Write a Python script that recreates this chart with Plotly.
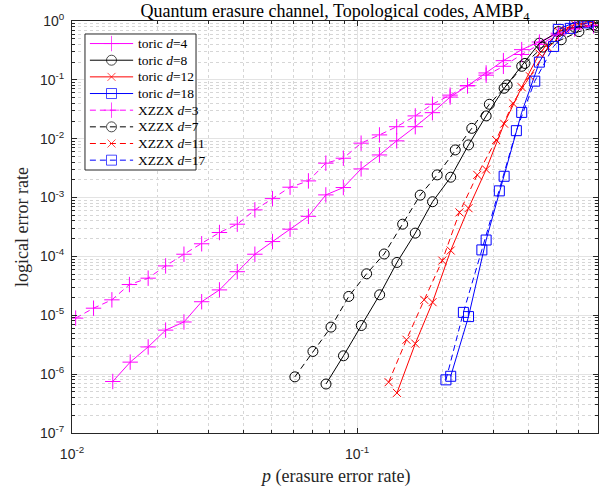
import plotly.graph_objects as go

# ---------------- data ----------------
p_toric4 = [0.0139, 0.016, 0.0185, 0.0213, 0.0247, 0.0285, 0.0329, 0.038, 0.0438, 0.0505,
            0.0582, 0.0675, 0.0777, 0.0895, 0.1033, 0.1198, 0.1377, 0.16, 0.1838, 0.212,
            0.244, 0.2836, 0.326, 0.378, 0.436, 0.508, 0.58, 0.675]
y_toric4 = [7.5e-7, 1.6e-6, 2.9e-6, 5.6e-6, 7.7e-6, 1.7e-5, 2.7e-5, 5.5e-5, 1.09e-4, 1.79e-4,
            2.9e-4, 4.8e-4, 1.11e-3, 1.48e-3, 3.07e-3, 5.3e-3, 9.2e-3, 1.6e-2, 2.77e-2, 5.1e-2,
            7.9e-2, 0.131, 0.212, 0.326, 0.44, 0.62, 0.76, 0.85]

p_xzzx3 = [0.0103, 0.0119, 0.0138, 0.0159, 0.0185, 0.0213, 0.0247, 0.0285, 0.0329, 0.038,
           0.0438, 0.0505, 0.0582, 0.0675, 0.0777, 0.0895, 0.1033, 0.1198, 0.1377, 0.16,
           0.1838, 0.212, 0.244, 0.2836, 0.326, 0.378, 0.436, 0.508, 0.58, 0.675]
y_xzzx3 = [8.95e-6, 1.32e-5, 1.83e-5, 3.33e-5, 4.27e-5, 6.9e-5, 1.09e-4, 1.64e-4, 2.55e-4, 3.53e-4,
           6.18e-4, 9.6e-4, 1.5e-3, 1.92e-3, 3.84e-3, 4.66e-3, 8.4e-3, 1.16e-2, 1.6e-2, 2.44e-2,
           3.85e-2, 5.5e-2, 8.0e-2, 0.12, 0.17, 0.27, 0.40, 0.58, 0.73, 0.83]

p_toric8 = [0.0778, 0.0896, 0.1035, 0.12, 0.138, 0.16, 0.184, 0.213, 0.246, 0.2836,
            0.328, 0.378, 0.436, 0.508, 0.58, 0.675]
y_toric8 = [6.8e-7, 2.05e-6, 6.7e-6, 2.23e-5, 7.9e-5, 2.49e-4, 8.5e-4, 2.22e-3, 7.85e-3, 2.44e-2,
            7.2e-2, 0.17, 0.42, 0.66, 0.78, 0.86]

p_xzzx7 = [0.0605, 0.07, 0.081, 0.0935, 0.108, 0.1245, 0.1445, 0.1665, 0.191, 0.221,
           0.2525, 0.291, 0.336, 0.388, 0.448, 0.52, 0.60, 0.69]
y_xzzx7 = [9.0e-7, 2.43e-6, 6.3e-6, 2.09e-5, 5.07e-5, 1.1e-4, 3.53e-4, 1.1e-3, 2.43e-3, 6.45e-3,
           1.5e-2, 3.85e-2, 8.2e-2, 0.19, 0.36, 0.48, 0.66, 0.78]

p_toric12 = [0.138, 0.16, 0.184, 0.213, 0.246, 0.2836, 0.328, 0.378, 0.436, 0.508, 0.58, 0.675]
y_toric12 = [4.8e-7, 3.3e-6, 1.67e-5, 1.26e-4, 6.6e-4, 3.0e-3, 1.8e-2, 0.075, 0.28, 0.66, 0.88, 0.95]

p_xzzx11 = [0.129, 0.149, 0.172, 0.199, 0.2286, 0.264, 0.3075, 0.352, 0.404, 0.468, 0.54, 0.625]
y_xzzx11 = [7.3e-7, 3.84e-6, 1.83e-5, 8.5e-5, 5.6e-4, 2.43e-3, 9.5e-3, 0.04, 0.115, 0.35, 0.7, 0.9]

p_toric18 = [0.213, 0.246, 0.2836, 0.328, 0.378, 0.436, 0.508, 0.58, 0.675]
y_toric18 = [9.2e-7, 9.5e-6, 1.9e-4, 2.3e-3, 2.8e-2, 0.2, 0.72, 0.95, 0.99]

p_xzzx17 = [0.205, 0.236, 0.274, 0.3155, 0.362, 0.42, 0.489, 0.56, 0.645]
y_xzzx17 = [8.0e-7, 1.12e-5, 1.29e-4, 1.3e-3, 1.37e-2, 0.095, 0.37, 0.75, 0.93]

x_tickvals = [0.01, 0.1]
x_ticktext = ["10<sup>-2</sup>", "10<sup>-1</sup>"]
y_tickvals = [1e-7, 1e-6, 1e-5, 1e-4, 1e-3, 1e-2, 1e-1, 1]
y_ticktext = ["10<sup>-7</sup>", "10<sup>-6</sup>", "10<sup>-5</sup>", "10<sup>-4</sup>",
              "10<sup>-3</sup>", "10<sup>-2</sup>", "10<sup>-1</sup>", "10<sup>0</sup>"]

x_minor = [m * 10.0 ** e for e in (-2, -1) for m in range(2, 10)]
y_minor = [m * 10.0 ** e for e in range(-7, 0) for m in range(2, 10)]

series = [
    ("toric <i>d</i>=4", p_toric4, y_toric4, "#FF00FF", "solid", "cross-thin-open", 11),
    ("toric <i>d</i>=8", p_toric8, y_toric8, "#000000", "solid", "circle-open", 10),
    ("toric <i>d</i>=12", p_toric12, y_toric12, "#FF0000", "solid", "x-thin-open", 8),
    ("toric <i>d</i>=18", p_toric18, y_toric18, "#0000FF", "solid", "square-open", 10),
    ("XZZX <i>d</i>=3", p_xzzx3, y_xzzx3, "#FF00FF", "6px,4px", "cross-thin-open", 11),
    ("XZZX <i>d</i>=7", p_xzzx7, y_xzzx7, "#000000", "6px,4px", "circle-open", 10),
    ("XZZX <i>d</i>=11", p_xzzx11, y_xzzx11, "#FF0000", "6px,4px", "x-thin-open", 8),
    ("XZZX <i>d</i>=17", p_xzzx17, y_xzzx17, "#0000FF", "6px,4px", "square-open", 10),
]

SERIF = "Liberation Serif, Times New Roman, serif"
SANS = "Liberation Sans, Arial, sans-serif"
AX = "#262626"

W, H = 611, 489
plot_l, plot_r, plot_t, plot_b = 72, 598, 21, 433
pw, ph = plot_r - plot_l, plot_b - plot_t

fig = go.Figure()
for name, xs, ys, col, dash, sym, sz in series:
    fig.add_trace(go.Scatter(
        x=xs, y=ys, name=name, mode="lines+markers", showlegend=False,
        line=dict(color=col, width=1, dash=dash),
        marker=dict(symbol=sym, size=sz, color=col, line=dict(color=col, width=1)),
    ))

# ---------------- legend (drawn in its own small axes, units = pixels) ----------------
LEG_W, LEG_H = 113, 138
ROW0, ROW_STEP = 9.7, 16.9
fig.add_trace(go.Scatter(
    x=[0, LEG_W, LEG_W, 0, 0], y=[0, 0, LEG_H, LEG_H, 0], mode="lines",
    fill="toself", fillcolor="white", line=dict(color=AX, width=1),
    xaxis="x2", yaxis="y2", showlegend=False, hoverinfo="skip",
))
for i, (name, xs, ys, col, dash, sym, sz) in enumerate(series):
    ry = ROW0 + ROW_STEP * i
    fig.add_trace(go.Scatter(
        x=[5, 27, 49], y=[ry, ry, ry], mode="lines+markers", showlegend=False,
        line=dict(color=col, width=1, dash=dash),
        marker=dict(symbol=sym, size=[0, sz, 0], color=col, line=dict(color=col, width=1)),
        xaxis="x2", yaxis="y2", hoverinfo="skip",
    ))
    fig.add_annotation(x=52, y=ry, xref="x2", yref="y2", text=name, showarrow=False,
                       xanchor="left", yanchor="middle",
                       font=dict(family=SERIF, size=13.5, color="#000000"))

axis_common = dict(
    type="log", showline=True, linecolor=AX, linewidth=1, mirror="allticks",
    ticks="inside", ticklen=5, tickcolor=AX, automargin=False,
    showgrid=True, gridcolor="#e3e3e3", gridwidth=1, zeroline=False,
    tickfont=dict(family=SANS, size=14, color=AX),
)

fig.update_xaxes(
    **axis_common, range=[-2, 0.8451 - 1], tickvals=x_tickvals, ticktext=x_ticktext,
    ticklabelstandoff=8,
    minor=dict(tickvals=x_minor, ticks="inside", ticklen=3, tickcolor=AX,
               showgrid=True, gridcolor="#d6d6d6", griddash="dot"),
)
fig.update_yaxes(
    **axis_common, range=[-7, 0], tickvals=y_tickvals, ticktext=y_ticktext,
    ticklabelstandoff=4,
    minor=dict(tickvals=y_minor, ticks="inside", ticklen=3, tickcolor=AX,
               showgrid=True, gridcolor="#d6d6d6", griddash="dot"),
)

# axis titles placed as paper annotations
fig.add_annotation(text="<i>p</i> (erasure error rate)", xref="paper", yref="paper",
                   x=0.5, y=-(476 - plot_b) / ph, xanchor="center", yanchor="middle",
                   showarrow=False, font=dict(family=SERIF, size=18, color=AX))
fig.add_annotation(text="logical error rate", xref="paper", yref="paper",
                   x=-(plot_l - 22) / pw, y=0.5, xanchor="center", yanchor="middle",
                   textangle=-90, showarrow=False, font=dict(family=SERIF, size=18, color=AX))

leg_x0, leg_y0 = 84, 33
fig.update_layout(
    xaxis2=dict(domain=[(leg_x0 - plot_l) / pw, (leg_x0 + LEG_W - plot_l) / pw],
                range=[-1, LEG_W + 1], visible=False, fixedrange=True, anchor="y2"),
    yaxis2=dict(domain=[(plot_b - leg_y0 - LEG_H) / ph, (plot_b - leg_y0) / ph],
                range=[LEG_H + 1, -1], visible=False, fixedrange=True, anchor="x2"),
)

fig.update_layout(
    width=W, height=H,
    margin=dict(l=plot_l, r=W - plot_r, t=plot_t, b=H - plot_b, autoexpand=False),
    paper_bgcolor="white", plot_bgcolor="white",
    title=dict(text="Quantum erasure channel, Topological codes, AMBP<sub>4</sub>",
               x=(plot_l + plot_r) / 2 / W, xanchor="center", y=1 - 11 / H, yanchor="middle",
               font=dict(family=SERIF, size=18, color="#000000")),
    showlegend=False,
)

fig.write_html("out.html")
